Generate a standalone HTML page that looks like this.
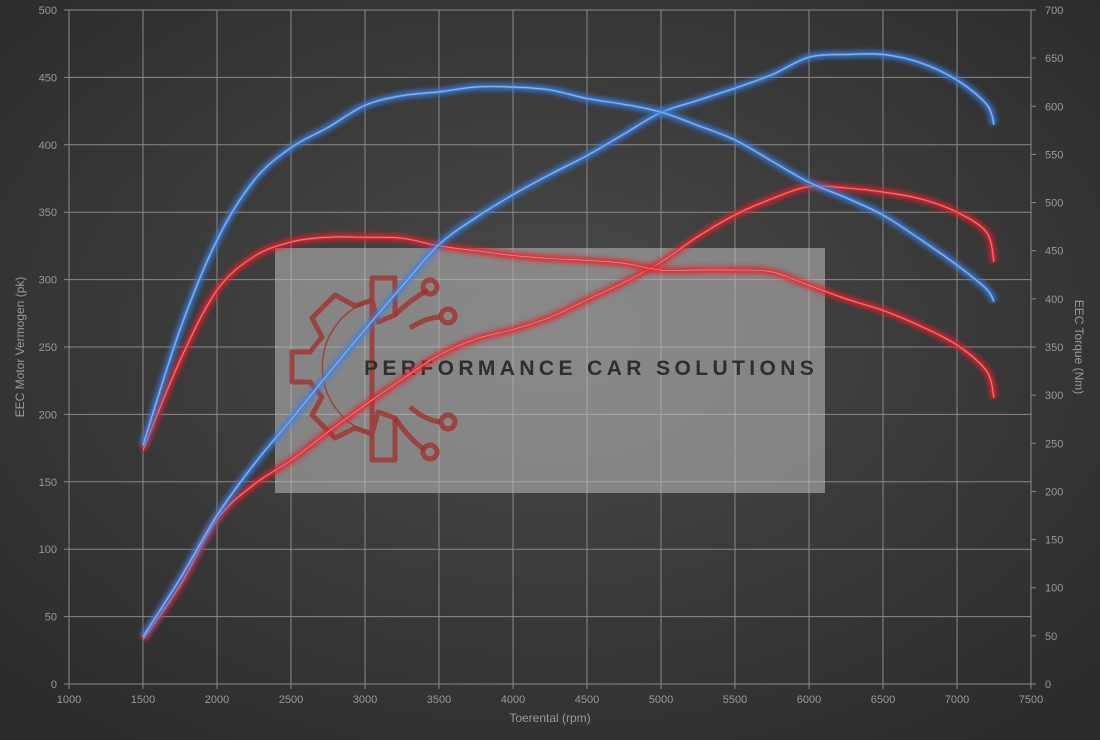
<!DOCTYPE html>
<html><head><meta charset="utf-8"><style>
html,body{margin:0;padding:0;width:1100px;height:740px;overflow:hidden;background:#3a3a3a}
svg{display:block}
text{font-family:"Liberation Sans",sans-serif}
</style></head><body>
<svg id="chart" width="1100" height="740" viewBox="0 0 1100 740">
<defs>
<radialGradient id="bg" cx="50%" cy="45%" r="70%">
<stop offset="0" stop-color="#4a4a4a"/><stop offset="1" stop-color="#2b2b2b"/>
</radialGradient>
<filter id="glow" x="-10%" y="-10%" width="120%" height="120%"><feGaussianBlur stdDeviation="2.5"/></filter>
</defs>
<rect width="1100" height="740" fill="url(#bg)"/>
<g id="grid"></g>
<g id="wm">
<rect x="275" y="248" width="550" height="245" fill="rgba(190,190,190,0.55)"/>
<g fill="none" stroke="rgba(160,50,45,0.8)" stroke-width="5" stroke-linejoin="round">
<path d="M372,278 L395,278 L395,315 L378,322 L372,300 L355,306 L335,295 L312,318 L322,337 L310,352 L292,352 L292,382 L310,382 L322,397 L312,415 L335,438 L355,428 L372,434 L378,412 L395,418 L395,460 L372,460 Z"/>
<path d="M372,300 A70,70 0 0 0 372,434" stroke-width="1.5"/>
<path d="M395,315 Q410,300 428,290"/><circle cx="430" cy="287" r="7"/>
<path d="M410,328 Q425,318 440,317"/><circle cx="448" cy="316" r="7"/>
<path d="M410,407 Q425,420 440,422"/><circle cx="448" cy="422" r="7"/>
<path d="M395,418 Q410,440 425,450"/><circle cx="430" cy="452" r="7"/>
</g>
<text x="364" y="375" font-size="21" font-weight="bold" fill="#2e2e2e" letter-spacing="4.4">PERFORMANCE CAR SOLUTIONS</text>
</g>
<g id="series"></g>
<g id="axes"></g>
</svg>
<script>
const rpm = [1500,1750,2000,2250,2500,2750,3000,3250,3500,3750,4000,4250,4500,4750,5000,5250,5500,5750,6000,6250,6500,6750,7000,7200,7250];
const tunedPower = [35,78,125,163,196,230,263,295,326,346,363,378,392,408,424,433,442,452,465,467,467,461,448,430,415];
const tunedTorque = [248,368,461,523,557,578,601,611,615,620,620,617,608,602,594,580,565,543,521,505,487,462,435,410,397];
const stockPower = [33,73,122,148,166,187,207,226,244,256,263,272,285,298,313,332,348,360,369,368,365,360,350,335,313];
const stockTorque = [243,336,409,444,459,464,464,463,455,450,445,442,440,437,430,430,430,428,414,400,388,372,352,325,297];
const xTicks = [1000,1500,2000,2500,3000,3500,4000,4500,5000,5500,6000,6500,7000,7500];
const yLeftTicks = [0,50,100,150,200,250,300,350,400,450,500];
const yRightTicks = [0,50,100,150,200,250,300,350,400,450,500,550,600,650,700];

const L=69,R=1031,T=10,B=684;
const X=v=>L+(v-1000)/6500*(R-L);
const YL=v=>B-v/500*(B-T);
const YR=v=>B-v/700*(B-T);
const NS="http://www.w3.org/2000/svg";
function mk(tag,attrs,parent){const e=document.createElementNS(NS,tag);for(const k in attrs)e.setAttribute(k,attrs[k]);parent.appendChild(e);return e;}
const grid=document.getElementById('grid'),axes=document.getElementById('axes'),ser=document.getElementById('series');
xTicks.forEach(v=>{
  const l=mk('line',{x1:X(v),x2:X(v),y1:T,y2:B+5,stroke:'#8a8a8a','stroke-width':1},grid);
  
  
  const t=mk('text',{x:X(v),y:B+19,'text-anchor':'middle','font-size':11,fill:'#9a9a9a'},axes);t.textContent=v;
  
  
});
yLeftTicks.forEach(v=>{
  const l=mk('line',{x1:L-5,x2:R,y1:YL(v),y2:YL(v),stroke:'#8a8a8a','stroke-width':1},grid);
  
  
  const t=mk('text',{x:L-12,y:YL(v)+4,'text-anchor':'end','font-size':11,fill:'#9a9a9a'},axes);t.textContent=v;
  
  
});
yRightTicks.forEach(v=>{
  const l=mk('line',{x1:R,x2:R+5,y1:YR(v),y2:YR(v),stroke:'#8a8a8a','stroke-width':1},grid);
  
  
  const t=mk('text',{x:R+14,y:YR(v)+4,'font-size':11,fill:'#9a9a9a'},axes);t.textContent=v;
  
  
});
let t=mk('text',{x:550,y:722,'text-anchor':'middle','font-size':12,fill:'#9a9a9a'},axes);t.textContent='Toerental (rpm)';


t=mk('text',{x:0,y:0,transform:'translate(24,347) rotate(-90)','text-anchor':'middle','font-size':12,fill:'#9a9a9a'},axes);t.textContent='EEC Motor Vermogen (pk)';


t=mk('text',{x:0,y:0,transform:'translate(1075,347) rotate(90)','text-anchor':'middle','font-size':12,fill:'#9a9a9a'},axes);t.textContent='EEC Torque (Nm)';



function path(pts){
  let d='M'+pts[0][0]+','+pts[0][1];
  for(let i=0;i<pts.length-1;i++){
    const p0=pts[i-1]||pts[i],p1=pts[i],p2=pts[i+1],p3=pts[i+2]||p2;
    const c1=[p1[0]+(p2[0]-p0[0])/6,p1[1]+(p2[1]-p0[1])/6],c2=[p2[0]-(p3[0]-p1[0])/6,p2[1]-(p3[1]-p1[1])/6];
    d+=' C'+c1+' '+c2+' '+p2;
  }
  return d;
}
function draw(vals,Y,glow,core,name){
  const pts=rpm.map((r,i)=>[X(r),Y(vals[i])]);
  const d=path(pts);
  const g=mk('g',{},ser);
  
  
  mk('path',{d:d,fill:'none',stroke:glow,'stroke-width':7,opacity:0.8,filter:'url(#glow)'},g);
  mk('path',{d:d,fill:'none',stroke:core,'stroke-width':2.2},g);
  mk('path',{d:d,fill:'none',stroke:'rgba(255,255,255,0.45)','stroke-width':0.7},g);
}
draw(stockPower,YL,'#e0242a','#e8333a','stock-power-line');
draw(stockTorque,YR,'#e0242a','#e8333a','stock-torque-line');
draw(tunedPower,YL,'#3a7fe0','#4d8fe8','tuned-power-line');
draw(tunedTorque,YR,'#3a7fe0','#4d8fe8','tuned-torque-line');
</script>
</body></html>
